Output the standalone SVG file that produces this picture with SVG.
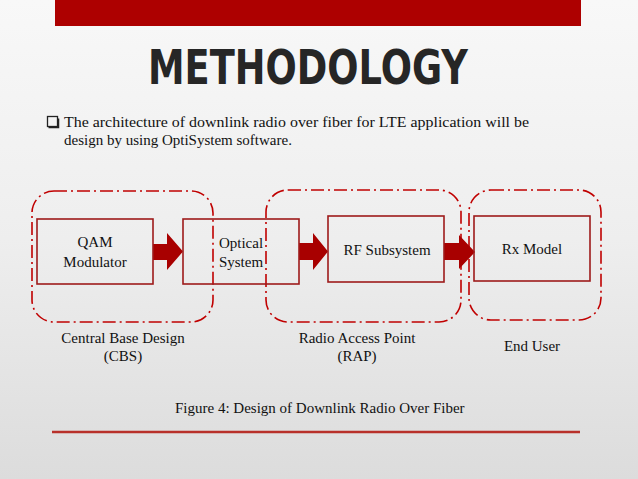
<svg xmlns="http://www.w3.org/2000/svg" width="638" height="479" viewBox="0 0 638 479">
<defs>
<linearGradient id="bg" x1="0" y1="0" x2="0" y2="1">
<stop offset="0" stop-color="#f8f8f8"/>
<stop offset="0.5" stop-color="#eeeeee"/>
<stop offset="1" stop-color="#dcdcdc"/>
</linearGradient>
<style>
.t{font-family:"Liberation Serif","Times New Roman",serif;fill:#111;font-size:15px}
.c{text-anchor:middle}
.box{fill:none;stroke:#9e1b1b;stroke-width:1.6}
.grp{fill:none;stroke:#c00000;stroke-width:1.6;stroke-dasharray:13 4 2 4}
.arr{fill:#a80000}
</style>
</defs>
<rect width="638" height="479" fill="url(#bg)"/>
<rect x="55" y="0" width="526" height="26" fill="#ad0000"/>
<text x="148" y="84" textLength="320" lengthAdjust="spacingAndGlyphs" style="font-family:'DejaVu Sans',sans-serif;font-weight:bold;font-size:48px;fill:#262626">METHODOLOGY</text>
<rect x="47.5" y="116.5" width="10" height="10" fill="none" stroke="#222" stroke-width="1.3"/>
<path d="M58.5 118.5v9h-10" fill="none" stroke="#222" stroke-width="1.5"/>
<text class="t" x="64" y="127" textLength="465" lengthAdjust="spacingAndGlyphs">The architecture of downlink radio over fiber for LTE application will be</text>
<text class="t" x="64" y="145">design by using OptiSystem software.</text>
<g id="groups">
<rect id="cbs" class="grp" x="32" y="191" width="181" height="131" rx="22"/>
<rect id="rap" class="grp" x="266" y="190" width="195" height="132" rx="22"/>
<rect id="eu" class="grp" x="469" y="190" width="132" height="130" rx="22"/>
</g>
<g id="connectors">
<path class="arr" d="M153 244H167V233L183 251.5L167 270V260H153Z"/>
<path class="arr" d="M299 243H313V233L328 251.5L313 270V260H299Z"/>
<path class="arr" d="M444 243H459V235L475 252L459 269V260H444Z"/>
</g>
<g id="qam">
<rect class="box" x="37" y="219" width="116" height="65"/>
<text class="t c" x="95" y="247">QAM</text>
<text class="t c" x="95" y="267">Modulator</text>
</g>
<g id="optical">
<rect class="box" x="183" y="219" width="116" height="65"/>
<text class="t c" x="241" y="248">Optical</text>
<text class="t c" x="241" y="267">System</text>
</g>
<g id="rf">
<rect class="box" x="328" y="216" width="116" height="66"/>
<text class="t c" x="387" y="255">RF Subsystem</text>
</g>
<g id="rx">
<rect class="box" x="474" y="216" width="116" height="65"/>
<text class="t c" x="532" y="254">Rx Model</text>
</g>
<text class="t c" x="123" y="343">Central Base Design</text>
<text class="t c" x="123" y="361">(CBS)</text>
<text class="t c" x="357" y="343">Radio Access Point</text>
<text class="t c" x="357" y="361">(RAP)</text>
<text class="t c" x="532" y="351">End User</text>
<text class="t" x="175" y="413">Figure 4: Design of Downlink Radio Over Fiber</text>
<line x1="52" y1="432" x2="580" y2="432" stroke="#b8302a" stroke-width="2.5"/>
</svg>
